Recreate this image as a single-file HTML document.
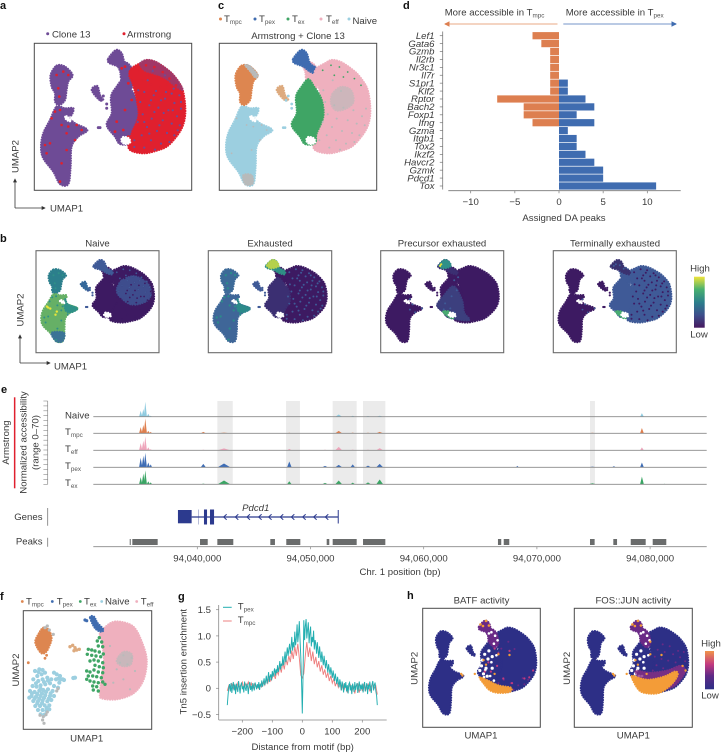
<!DOCTYPE html>
<html lang="en">
<head>
<meta charset="utf-8">
<title>Chromatin accessibility figure</title>
<style>
html,body{margin:0;padding:0;background:#fff;width:721px;height:753px;overflow:hidden}
svg{display:block}
text{font-family:"Liberation Sans",sans-serif;font-size:9.6px;fill:#3a3a3a}
.letter{font-weight:bold;font-size:11px;fill:#111}
.frame{fill:none;stroke:#4a4a4a;stroke-width:1}
.frame2{fill:none;stroke:#6a6a6a;stroke-width:1.1}
.sub{font-size:6.3px;fill:#555}
.mid{text-anchor:middle}
.end{text-anchor:end}
</style>
</head>
<body>
<svg id="fig" xmlns="http://www.w3.org/2000/svg" width="721" height="753" viewBox="0 0 721 753">
<defs>
<marker id="ah" viewBox="0 0 6 6" refX="5" refY="3" markerWidth="5" markerHeight="5" orient="auto"><path d="M0 0L6 3L0 6z" fill="#333"/></marker>
<marker id="ahO" viewBox="0 0 6 6" refX="5" refY="3" markerWidth="4" markerHeight="4" orient="auto"><path d="M0 0L6 3L0 6z" fill="#DD7F50"/></marker>
<marker id="ahB" viewBox="0 0 6 6" refX="5" refY="3" markerWidth="4" markerHeight="4" orient="auto"><path d="M0 0L6 3L0 6z" fill="#3F6CB0"/></marker>
<linearGradient id="viridis" x1="0" y1="1" x2="0" y2="0">
<stop offset="0" stop-color="#46195f"/><stop offset=".25" stop-color="#3d4f8c"/><stop offset=".5" stop-color="#2c7f8c"/><stop offset=".75" stop-color="#48b070"/><stop offset="1" stop-color="#efe43a"/>
</linearGradient>
<linearGradient id="plasma" x1="0" y1="1" x2="0" y2="0">
<stop offset="0" stop-color="#2d2f86"/><stop offset=".35" stop-color="#5f2a86"/><stop offset=".65" stop-color="#c23a80"/><stop offset="1" stop-color="#f0944a"/>
</linearGradient>
</defs>

<text class="letter" x="0" y="9">a</text>
<text class="letter" x="218" y="9">c</text>
<text class="letter" x="403" y="9">d</text>
<text class="letter" x="0" y="242">b</text>
<text class="letter" x="1" y="393">e</text>
<text class="letter" x="0" y="600">f</text>
<text class="letter" x="178" y="600">g</text>
<text class="letter" x="407" y="599">h</text>

<!-- panel a -->
<g id="panelA"></g>
<rect class="frame" x="34.3" y="43.3" width="157.4" height="147"/>
<circle cx="47.7" cy="33.7" r="1.5" fill="#6E4B96"/>
<text x="52" y="37.3">Clone 13</text>
<circle cx="124" cy="33.7" r="1.5" fill="#E0202E"/>
<text x="127" y="37.3">Armstrong</text>
<path d="M15 208V179" stroke="#333" stroke-width=".8" fill="none" marker-end="url(#ah)"/>
<path d="M15 208H45" stroke="#333" stroke-width=".8" fill="none" marker-end="url(#ah)"/>
<text class="mid" transform="translate(18.3 156.5) rotate(-90)">UMAP2</text>
<text x="50" y="211.5">UMAP1</text>

<!-- panel c -->
<g id="panelC"></g>
<rect class="frame" x="219.3" y="43.3" width="157.4" height="147"/>
<circle cx="220.5" cy="19" r="1.5" fill="#DD8650"/>
<text x="224" y="22">T<tspan class="sub" dy="2">mpc</tspan></text>
<circle cx="255" cy="19" r="1.5" fill="#3F6CB0"/>
<text x="259" y="22">T<tspan class="sub" dy="2">pex</tspan></text>
<circle cx="288" cy="19" r="1.5" fill="#3FA565"/>
<text x="292" y="22">T<tspan class="sub" dy="2">ex</tspan></text>
<circle cx="321" cy="19" r="1.5" fill="#EFB0BE"/>
<text x="326" y="22">T<tspan class="sub" dy="2">eff</tspan></text>
<circle cx="349" cy="19" r="1.5" fill="#9CCFE0"/>
<text x="352.5" y="24">Naive</text>
<text class="mid" x="298" y="39">Armstrong + Clone 13</text>

<!-- panel d -->
<text x="444.7" y="15.3">More accessible in T<tspan class="sub" dy="2">mpc</tspan></text>
<text x="565.7" y="15.3">More accessible in T<tspan class="sub" dy="2">pex</tspan></text>
<path d="M557.5 24H445" stroke="#F1C6AE" stroke-width="1.4" marker-end="url(#ahO)"/>
<path d="M563.3 24H676" stroke="#A3B9DB" stroke-width="1.4" marker-end="url(#ahB)"/>
<g id="panelD"></g>
<text class="mid" x="564" y="221">Assigned DA peaks</text>

<!-- panel b -->
<g id="panelB1"></g>
<g id="panelB2"></g>
<g id="panelB3"></g>
<g id="panelB4"></g>
<rect class="frame2" x="36" y="250.7" width="123" height="102"/>
<rect class="frame2" x="208.3" y="250.7" width="123.4" height="102"/>
<rect class="frame2" x="380.7" y="250.7" width="123" height="102"/>
<rect class="frame2" x="553.3" y="250.7" width="123" height="102"/>
<text class="mid" x="97.5" y="246.7">Naive</text>
<text class="mid" x="270" y="246.7">Exhausted</text>
<text class="mid" x="442" y="246.7">Precursor exhausted</text>
<text class="mid" x="615" y="246.7">Terminally exhausted</text>
<rect x="694" y="276.7" width="10.7" height="51" fill="url(#viridis)"/>
<text class="mid" x="700" y="271.5">High</text>
<text class="mid" x="699" y="337.5">Low</text>
<path d="M20 363V335" stroke="#333" stroke-width=".8" fill="none" marker-end="url(#ah)"/>
<path d="M20 363H50" stroke="#333" stroke-width=".8" fill="none" marker-end="url(#ah)"/>
<text class="mid" transform="translate(23.3 310) rotate(-90)">UMAP2</text>
<text x="54" y="369.5">UMAP1</text>

<!-- panel e -->
<rect x="13.9" y="397.3" width="1.5" height="91" fill="#E0202E"/>
<text class="mid" transform="translate(9 442.5) rotate(-90)">Armstrong</text>
<text class="mid" transform="translate(26.7 442.5) rotate(-90)">Normalized accessibility</text>
<text class="mid" transform="translate(38.5 442.5) rotate(-90)">(range 0–70)</text>
<g id="panelE"></g>
<text x="65" y="418.5">Naive</text>
<text x="65" y="435">T<tspan class="sub" dy="2">mpc</tspan></text>
<text x="65" y="452">T<tspan class="sub" dy="2">eff</tspan></text>
<text x="65" y="469">T<tspan class="sub" dy="2">pex</tspan></text>
<text x="65" y="486">T<tspan class="sub" dy="2">ex</tspan></text>
<text class="end" x="42.5" y="520">Genes</text>
<text class="end" x="42.5" y="544.3">Peaks</text>
<path d="M47.7 508V525.7M47.7 537.7V546.7" stroke="#777" stroke-width=".8"/>
<text class="mid" x="255.7" y="511" font-style="italic">Pdcd1</text>
<text class="mid" x="400" y="575">Chr. 1 position (bp)</text>

<!-- panel f -->
<g id="panelF"></g>
<rect class="frame" x="23.3" y="610.7" width="128.4" height="118.6"/>
<circle cx="22.3" cy="601.5" r="1.4" fill="#DD8650"/>
<text x="26" y="604.5">T<tspan class="sub" dy="2">mpc</tspan></text>
<circle cx="52.3" cy="601.5" r="1.4" fill="#3F6CB0"/>
<text x="56.7" y="604.5">T<tspan class="sub" dy="2">pex</tspan></text>
<circle cx="80.3" cy="601.5" r="1.4" fill="#3FA565"/>
<text x="84" y="604.5">T<tspan class="sub" dy="2">ex</tspan></text>
<circle cx="101.7" cy="601.5" r="1.4" fill="#9CCFE0"/>
<text x="105" y="604.5">Naive</text>
<circle cx="136.7" cy="601.5" r="1.4" fill="#EFB0BE"/>
<text x="140.7" y="604.5">T<tspan class="sub" dy="2">eff</tspan></text>
<text class="mid" x="86.7" y="741.7">UMAP1</text>
<text class="mid" transform="translate(19 670) rotate(-90)">UMAP2</text>

<!-- panel g -->
<g id="panelG"></g>
<text class="mid" transform="translate(186.5 661.7) rotate(-90)">Tn5 insertion enrichment</text>
<text class="mid" x="302.7" y="750">Distance from motif (bp)</text>
<path d="M223 607.3H231.7" stroke="#22AEB0" stroke-width="1"/>
<path d="M223 621H231.7" stroke="#EE8080" stroke-width="1"/>
<text x="237.7" y="609.5">T<tspan class="sub" dy="2">pex</tspan></text>
<text x="237.7" y="623">T<tspan class="sub" dy="2">mpc</tspan></text>

<!-- panel h -->
<g id="panelH1"></g>
<g id="panelH2"></g>
<rect class="frame" x="422.7" y="608.3" width="117.6" height="119"/>
<rect class="frame" x="574.3" y="608.3" width="118" height="119"/>
<text class="mid" x="481.5" y="603.3">BATF activity</text>
<text class="mid" x="633.3" y="603.3">FOS::JUN activity</text>
<text class="mid" x="481" y="738.3">UMAP1</text>
<text class="mid" x="633.3" y="738.3">UMAP1</text>
<text class="mid" transform="translate(417.7 668.3) rotate(-90)">UMAP2</text>
<text class="mid" transform="translate(570 668.3) rotate(-90)">UMAP2</text>
<rect x="705" y="651" width="9" height="38.3" fill="url(#plasma)"/>
<text class="mid" x="711" y="646.7">High</text>
<text class="mid" x="710" y="698.3">Low</text>
</svg>

<script>
/* ---------- bar chart data (panel d) ---------- */
const geneNames = ['Lef1','Gata6','Gzmb','Il2rb','Nr3c1','Il7r','S1pr1','Klf2','Rptor','Bach2','Foxp1','Ifng','Gzma','Itgb1','Tox2','Ikzf2','Havcr2','Gzmk','Pdcd1','Tox'];
const tmpcPeaks = [-3,-2,-1,-1,-1,-1,-1,-1,-7,-4,-4,-3,0,0,0,0,0,0,0,0];
const tpexPeaks = [0,0,0,0,0,0,1,1,3,4,2,4,1,2,2,3,4,5,5,11];
const daTicks = [-10,-5,0,5,10];

/* ---------- line chart data (panel g) ---------- */
const tpexDistance = [-250,-247.5,-245,-242.5,-240,-237.5,-235,-232.5,-230,-227.5,-225,-222.5,-220,-217.5,-215,-212.5,-210,-207.5,-205,-202.5,-200,-197.5,-195,-192.5,-190,-187.5,-185,-182.5,-180,-177.5,-175,-172.5,-170,-167.5,-165,-162.5,-160,-157.5,-155,-152.5,-150,-147.5,-145,-142.5,-140,-137.5,-135,-132.5,-130,-127.5,-125,-122.5,-120,-117.5,-115,-112.5,-110,-107.5,-105,-102.5,-100,-97.5,-95,-92.5,-90,-87.5,-85,-82.5,-80,-77.5,-75,-72.5,-70,-67.5,-65,-62.5,-60,-57.5,-55,-52.5,-50,-47.5,-45,-42.5,-40,-37.5,-35,-32.5,-30,-27.5,-25,-22.5,-20,-17.5,-15,-12.5,-10,-7.5,-5,-2.5,0,2.5,5,7.5,10,12.5,15,17.5,20,22.5,25,27.5,30,32.5,35,37.5,40,42.5,45,47.5,50,52.5,55,57.5,60,62.5,65,67.5,70,72.5,75,77.5,80,82.5,85,87.5,90,92.5,95,97.5,100,102.5,105,107.5,110,112.5,115,117.5,120,122.5,125,127.5,130,132.5,135,137.5,140,142.5,145,147.5,150,152.5,155,157.5,160,162.5,165,167.5,170,172.5,175,177.5,180,182.5,185,187.5,190,192.5,195,197.5,200,202.5,205,207.5,210,212.5,215,217.5,220,222.5,225,227.5,230,232.5,235,237.5,240,242.5,245,247.5,250];
const tpexEnrichment = [-.32,-.12,.02,.08,-.06,.10,-.09,.03,.12,-.04,.07,-.11,.09,.01,-.07,.14,.02,-.10,.06,.11,-.02,
.04,-.08,.13,.00,-.05,.09,.03,-.11,.07,.12,-.03,.05,-.06,.10,.02,-.04,.11,.05,-.02,.08,
.00,.12,-.03,.07,.04,.15,.03,.10,.19,.06,.14,.24,.09,.18,.31,.12,.22,.27,.15,.33,
.22,.30,.38,.24,.36,.29,.44,.31,.40,.52,.36,.47,.43,.61,.44,.55,.70,.50,.64,.78,
.62,.74,.85,.66,.80,.98,.72,.88,.78,1.08,.82,.95,1.22,.88,1.05,1.28,.90,.60,
.10,-.48,.30,
1.30,.92,1.18,1.32,.95,1.12,1.26,.86,1.05,1.18,.80,.98,.88,1.10,.74,.92,.84,.66,.88,
.72,.58,.80,.64,.50,.70,.56,.44,.62,.48,.38,.54,.42,.30,.46,.36,.26,.40,.30,.20,
.34,.24,.14,.28,.18,.08,.22,.12,.02,.17,.09,-.04,.13,.05,-.08,.10,.01,.12,-.06,.06,
-.10,.08,.11,-.04,.06,-.11,.09,.02,-.07,.12,-.03,.05,.10,-.09,.04,.13,-.05,.07,-.02,.09,
-.08,.05,.12,-.06,.03,.10,-.11,.07,-.02,.13,.01,-.09,.08,.14,-.04,.06,.11,-.05,-.14,-.32];
const tmpcDistance = [-250,-245,-240,-235,-230,-225,-220,-215,-210,-205,-200,-195,-190,-185,-180,-175,-170,-165,-160,-155,-150,-145,-140,-135,-130,-125,-120,-115,-110,-105,-100,-95,-90,-85,-80,-75,-70,-65,-60,-55,-50,-45,-40,-35,-30,-25,-20,-15,-10,-5,0,5,10,15,20,25,30,35,40,45,50,55,60,65,70,75,80,85,90,95,100,105,110,115,120,125,130,135,140,145,150,155,160,165,170,175,180,185,190,195,200,205,210,215,220,225,230,235,240,245,250];
const tmpcEnrichment = [-.05,.05,-.04,.08,.00,.07,-.02,.10,.02,.06,.12,.00,.09,.03,.12,.02,.10,.00,.08,.03,.06,.00,.08,.03,.12,.06,.18,.10,.24,.14,.20,.28,.18,.34,.26,.42,.30,.50,.36,.58,.44,.62,.50,.72,.56,.80,.62,.85,.58,.25,.20,.28,.62,.88,.60,.78,.52,.70,.46,.60,.40,.52,.32,.44,.26,.36,.20,.30,.14,.24,.10,.18,.04,.14,.02,.12,-.04,.08,-.02,.06,-.08,.04,.07,-.08,.05,-.10,.04,.08,-.08,.06,-.05,.09,-.06,.03,.08,-.06,.04,.10,.00,.05,-.12];
const enrichmentTicks = [-0.5,0,0.5,1,1.5];
const enrichmentLabels = ['−0.5','0','0.5','1.0','1.5'];
const distanceTicks = [-200,-100,0,100,200];

/* ---------- genome tracks data (panel e), positions in kb past 94,000,000 ---------- */
const peakKb = [35.0,35.23,35.41,35.67,35.88,40.53,42.36,48.13,51.28,52.49,53.73,55.08,56.11,65.33,68.27,74.9,76.8,79.28,81.26];
const peakHalfWidthKb = [.14,.14,.14,.14,.12,.22,.55,.2,.25,.3,.2,.25,.3,.1,.12,.35,.15,.16,.1];
const naiveSignal = [25,32,62,12,4,0,1,1,0,9,4,3,4,0,0,0,0,15,0];
const tmpcSignal = [26,35,62,10,6,6,3,2,1,10,3,2,6,0,0,2,0,22,0];
const teffSignal = [30,40,58,12,4,2,8,6,2,14,3,2,9,0,0,0,0,12,0];
const tpexSignal = [40,48,60,20,12,14,16,24,6,10,12,7,14,1,6,3,5,20,0];
const texSignal = [30,45,58,12,8,3,16,13,6,16,7,8,20,0,0,4,0,32,2];
const bandStartKb = [41.77,47.84,51.96,54.64,74.69];
const bandEndKb = [43.13,49.07,54.08,56.61,75.13];
const peakBoxStartKb = [34.03,34.26,40.24,41.77,46.45,47.86,51.43,51.96,54.64,66.56,67.07,74.69,76.75,78.29,80.23];
const peakBoxEndKb = [34.12,36.50,40.92,43.18,46.86,49.10,51.66,54.08,56.61,66.85,67.56,75.10,77.08,79.61,81.43];
const chevronKb = [42.45,43.48,44.51,45.54,46.42,47.45,48.43,49.43,50.4,51.43];
const exonStartKb = [38.29,40.12,40.59,41.12];
const exonEndKb = [39.5,40.15,40.86,41.48];
const genomeTicksKb = [40,50,60,70,80];
const genomeTickLabels = ['94,040,000','94,050,000','94,060,000','94,070,000','94,080,000'];

/* ---------- UMAP regions (umap1, umap2 units shared by panels a, b, c, h) ---------- */
const lobe = [[67,374],[92,371],[115,346],[102,326],[97,301],[92,271],[75,256],[62,266],[62,291],[52,311],[49,346]];
const naiveBody = [[67,251],[92,246],[117,246],[112,226],[102,221],[122,201],[159,181],[132,161],[112,131],[109,71],[102,19],[77,19],[57,56],[27,96],[20,131],[27,171],[47,211]];
const bump = [[222,395],[245,421],[262,411],[272,381],[292,366],[292,350],[272,356],[252,371],[225,382]];
const connector = [[252,375],[272,385],[292,366],[300,325],[285,305],[262,330],[258,355]];
const smallCluster = [[172,301],[189,313],[197,286],[207,271],[193,273]];
const texBand = [[267,333],[285,310],[307,271],[312,221],[292,171],[287,141],[257,139],[242,161],[217,196],[232,231],[230,281],[247,311]];
const teffDisc = [[292,366],[317,381],[337,391],[362,386],[387,371],[412,351],[432,326],[445,301],[452,261],[452,221],[442,186],[422,156],[397,131],[367,119],[332,111],[297,116],[282,131],[292,171],[312,221],[307,271],[295,320],[285,345]];
const discTopArc = [[317,381],[337,391],[362,386],[387,371],[412,351],[432,326],[445,301],[420,315],[395,335],[360,350],[330,360]];
const centerPatch = [[330,320],[380,340],[430,300],[440,250],[420,215],[370,200],[330,230],[310,270]];
const greyCenter = [[340,290],[365,310],[395,300],[402,265],[380,245],[350,240],[335,262]];
const greyTail = [[72,45],[97,45],[100,20],[78,18]];
const greyLobeTop = [[78,375],[92,372],[115,346],[108,338],[95,355]];
const holeRight = [[267,160],[283,156],[287,143],[271,139],[261,149]];
const holeLeft = [[97,222],[110,211],[104,207],[92,217]];
const bumpTop = [[225,395],[245,421],[262,411],[268,390],[240,380]];
const lowerTexPatch = [[217,196],[242,161],[257,139],[300,125],[340,125],[320,160],[312,221],[280,290],[240,240]];
const exGreenPatch = [[240,165],[250,150],[272,132],[280,140],[262,165]];
const tailPatch = [[77,19],[102,19],[107,60],[60,60]];
const armPatch = [[112,226],[122,201],[159,181],[132,161],[112,175]];
const batfOrange = [[225,175],[260,160],[300,140],[350,130],[345,112],[300,108],[265,120],[240,150]];
const fosOrange = [[225,180],[260,170],[300,165],[360,180],[400,200],[410,185],[385,145],[340,110],[295,105],[255,120]];
const fosMagenta = [[240,200],[300,195],[370,205],[420,225],[440,205],[420,165],[380,130],[300,130]];

const discSpeckles = [[310,360],[335,375],[360,370],[385,355],[405,335],[425,315],[345,345],[372,340],[398,318],[322,330],[350,318],[378,310],[412,290],[435,285],[330,295],[358,285],[392,275],[420,262],[440,245],[318,265],[345,255],[372,248],[402,240],[428,222],[325,228],[352,215],[385,210],[412,200],[436,195],[310,205],[338,190],[368,178],[398,172],[420,165],[322,165],[350,150],[380,140],[405,145],[300,150],[330,128],[362,122],[312,300],[340,330],[365,298],[395,295],[305,240],[330,205],[360,235],[388,232],[415,240],[345,170],[375,195],[300,130],[392,345],[355,358],[418,305],[440,265],[430,180],[380,270],[350,270]];
const leftSpeckles = [[67,346],[102,346],[87,356],[72,306],[75,281],[62,236],[52,216],[82,196],[102,191],[127,196],[142,181],[122,151],[97,121],[37,111],[47,141],[82,81],[77,26],[97,171],[77,241],[32,136]];
const bridgeSpeckles = [[272,371],[287,356],[262,366],[297,336],[282,321],[242,176],[267,181],[282,161],[247,206],[272,241],[292,271]];
const strayPoints = [[217,259],[217,246],[192,188],[197,188],[207,283],[200,270]];
const yellowNaive = [[47,185],[55,180],[42,190],[80,165],[75,150]];
const hTexGaps = [[235,250],[245,275],[232,225],[250,215],[262,290],[240,190],[225,205],[258,255],[275,215],[275,265],[255,180]];

/* ---------- panel f points (own umap units) ---------- */
const fNaive = [[35,175],[48,180],[42,160],[55,165],[65,170],[30,150],[45,145],[58,150],[72,155],[84,150],[28,130],[40,128],[52,132],[66,135],[80,138],[92,130],[20,115],[34,112],[48,116],[60,118],[74,120],[88,115],[100,165],[110,160],[118,150],[98,150],[108,140],[122,148],[92,170],[25,100],[38,98],[52,100],[66,102],[80,100],[18,95],[30,85],[44,84],[58,86],[72,84],[36,70],[50,70],[64,72],[78,72],[44,58],[58,58],[70,55],[52,45],[64,44],[78,60],[84,88],[92,100],[104,125],[155,155],[150,154],[38,138],[52,122],[62,142],[74,146],[46,172],[58,178],[26,108],[42,106],[56,108],[68,112],[82,108],[34,92],[48,92],[62,94],[76,92],[42,78],[56,78],[70,64],[112,150],[105,152]];
const fGrey = [[50,42],[60,38],[68,44],[58,28],[62,18],[72,52],[100,115],[104,122],[65,305],[78,298],[90,285],[72,310]];
const fTan = [[140,248],[148,252],[155,245],[160,238],[168,240],[152,236]];
const fTex = [[228,275],[222,265],[235,262],[225,250],[238,248],[195,240],[205,238],[215,235],[228,232],[192,225],[205,222],[218,220],[232,218],[240,226],[200,205],[212,208],[225,205],[238,200],[215,192],[228,188],[240,185],[190,175],[200,172],[212,178],[225,172],[238,170],[195,160],[208,160],[220,158],[234,155],[200,145],[212,142],[225,140],[238,142],[208,130],[220,128],[245,135],[210,118],[225,115],[190,150]];
const fOrangeBits = [[15,200],[65,213],[70,222]];
const fBlueBits = [[185,328],[190,326]];
const fGreyDisc = [[290,200],[300,222],[312,195],[325,215],[280,180],[335,175],[300,150],[270,140],[320,120],[260,250]];
const fTmpcBlob = [[60,305],[75,300],[85,275],[78,250],[68,232],[55,228],[42,245],[36,265],[48,290]];
const fTpexBlob = [[200,336],[212,338],[222,320],[240,300],[232,293],[214,305]];
const fTeffBlob = [[290,323],[330,308],[355,263],[370,208],[360,148],[330,108],[280,90],[235,93],[230,108],[235,158],[242,208],[235,268],[230,288],[260,318]];
const fGreyBlob = [[280,205],[300,232],[325,225],[322,195],[298,190]];

/* ---------- helpers ---------- */
const NS = 'http://www.w3.org/2000/svg';
const root = id => document.getElementById(id);
const linear = (d0,d1,r0,r1) => v => r0 + (v-d0)/(d1-d0)*(r1-r0);
const makeScale = (xd,xr,yd,yr) => ({x:linear(xd[0],xd[1],xr[0],xr[1]),y:linear(yd[0],yd[1],yr[0],yr[1])});

/* closed smooth outline (Catmull-Rom to Bezier) through mapped points */
function smooth(sc,pts){
  const m=pts.map(q=>[sc.x(q[0]),sc.y(q[1])]), n=m.length;
  let d='M'+m[0][0].toFixed(1)+' '+m[0][1].toFixed(1);
  for(let i=0;i<n;i++){
    const p0=m[(i-1+n)%n],p1=m[i],p2=m[(i+1)%n],p3=m[(i+2)%n];
    const c1=[p1[0]+(p2[0]-p0[0])/6,p1[1]+(p2[1]-p0[1])/6];
    const c2=[p2[0]-(p3[0]-p1[0])/6,p2[1]-(p3[1]-p1[1])/6];
    d+='C'+c1[0].toFixed(1)+' '+c1[1].toFixed(1)+' '+c2[0].toFixed(1)+' '+c2[1].toFixed(1)+' '+p2[0].toFixed(1)+' '+p2[1].toFixed(1);
  }
  return d+'Z';
}
function region(g,sc,pts,color,name,opacity){
  const p=document.createElementNS(NS,'path');
  
  
  p.setAttribute('d',smooth(sc,pts));
  p.setAttribute('fill',color);
  p.setAttribute('stroke',color);
  p.setAttribute('stroke-width','2.2');
  p.setAttribute('stroke-linecap','round');
  p.setAttribute('stroke-dasharray','0.1 2.4');
  if(opacity) p.setAttribute('opacity',opacity);
  g.appendChild(p);
}
function dots(g,sc,pts,color,r,name){
  pts.forEach(q=>{
    const c=document.createElementNS(NS,'circle');
    
    
    c.setAttribute('cx',sc.x(q[0]).toFixed(1));
    c.setAttribute('cy',sc.y(q[1]).toFixed(1));
    c.setAttribute('r',r);
    c.setAttribute('fill',color);
    g.appendChild(c);
  });
}
function line(g,x1,y1,x2,y2,color,w,name){
  const l=document.createElementNS(NS,'line');
  
  
  l.setAttribute('x1',x1);l.setAttribute('y1',y1);l.setAttribute('x2',x2);l.setAttribute('y2',y2);
  l.setAttribute('stroke',color);l.setAttribute('stroke-width',w);
  g.appendChild(l);
}
function label(g,x,y,str,anchor,name,italic){
  const t=document.createElementNS(NS,'text');
  
  
  t.setAttribute('x',x);t.setAttribute('y',y);
  t.setAttribute('text-anchor',anchor);
  if(italic) t.setAttribute('font-style','italic');
  t.textContent=str;
  g.appendChild(t);
}
function box(g,x,y,w,h,color,name){
  const r=document.createElementNS(NS,'rect');
  
  
  r.setAttribute('x',x);r.setAttribute('y',y);r.setAttribute('width',w);r.setAttribute('height',h);
  r.setAttribute('fill',color);
  g.appendChild(r);
}
const holes = (g,sc)=>{region(g,sc,holeRight,'#fff','gap');region(g,sc,holeLeft,'#fff','gap');};

/* ---------- panel a ---------- */
(function(){
  const g=root('panelA'), sc=makeScale([0,472],[34.3,191.7],[0,441],[190.3,43.3]);
  const purple='#6E4B96', red='#E0202E';
  [lobe,naiveBody,bump,connector,smallCluster,texBand].forEach(r=>region(g,sc,r,purple,'clone13-cells'));
  dots(g,sc,strayPoints,purple,1.5,'clone13-cell');
  region(g,sc,teffDisc,red,'armstrong-cells');
  region(g,sc,discTopArc,purple,'clone13-cells-top','.55');
  dots(g,sc,discSpeckles,purple,1.1,'clone13-cell');
  dots(g,sc,discSpeckles.slice(0,12),red,1.3,'armstrong-cell');
  dots(g,sc,leftSpeckles,red,1.3,'armstrong-cell');
  dots(g,sc,bridgeSpeckles,red,1.4,'armstrong-cell');
  holes(g,sc);
})();

/* ---------- panel c ---------- */
(function(){
  const g=root('panelC'), sc=makeScale([0,472],[219.3,376.7],[0,441],[190.3,43.3]);
  region(g,sc,naiveBody,'#9CCFE0','naive-cells');
  region(g,sc,lobe,'#DD8650','tmpc-cells');
  region(g,sc,greyLobeTop,'#B8BABA','unassigned-cells');
  region(g,sc,greyTail,'#B8BABA','unassigned-cells');
  region(g,sc,connector,'#EFB0BE','teff-cells');
  region(g,sc,bump,'#3F6CB0','tpex-cells');
  region(g,sc,smallCluster,'#DDAA7E','small-cluster-cells');
  region(g,sc,teffDisc,'#EFB0BE','teff-cells');
  region(g,sc,texBand,'#3FA565','tex-cells');
  region(g,sc,greyCenter,'#B8BABA','unassigned-cells','.6');
  dots(g,sc,discSpeckles.slice(18,44),'#B8BABA',1,'unassigned-cell');
  dots(g,sc,discSpeckles.slice(0,8),'#3FA565',.9,'tex-cell');
  dots(g,sc,strayPoints,'#9CCFE0',1.4,'naive-cell');
  dots(g,sc,leftSpeckles.slice(6,14),'#B8BABA',.9,'unassigned-cell');
  holes(g,sc);
})();

/* ---------- panel b ---------- */
const bScale = (x0,x1)=>makeScale([0,472],[x0,x1],[0,441],[344.9,256]);
const dark='#3D1A62', mid='#3F5A97', teal='#2C7F8C';
(function(){
  const g=root('panelB1'), sc=bScale(36,159);
  region(g,sc,connector,dark,'low-cells');
  region(g,sc,teffDisc,dark,'low-cells');
  region(g,sc,texBand,dark,'low-cells');
  region(g,sc,centerPatch,'#3F5392','mid-cells','.9');
  dots(g,sc,discSpeckles,dark,.9,'low-cell');
  dots(g,sc,discSpeckles.slice(0,20),mid,.9,'mid-cell');
  region(g,sc,bump,mid,'mid-cells');
  region(g,sc,smallCluster,'#35689A','mid-cells');
  region(g,sc,lobe,teal,'teal-cells');
  region(g,sc,naiveBody,'#66B066','high-cells');
  region(g,sc,tailPatch,'#3B7396','mid-cells');
  region(g,sc,armPatch,'#2F9088','teal-cells');
  dots(g,sc,leftSpeckles,'#2F9088',1,'teal-cell');
  dots(g,sc,yellowNaive,'#E8E53A',1.2,'highest-cell');
  dots(g,sc,strayPoints,mid,1.1,'mid-cell');
  holes(g,sc);
})();
(function(){
  const g=root('panelB2'), sc=bScale(208.3,331.7);
  region(g,sc,connector,dark,'low-cells');
  region(g,sc,teffDisc,dark,'low-cells');
  region(g,sc,texBand,'#3B2F72','low-cells');
  dots(g,sc,discSpeckles,mid,1,'mid-cell');
  region(g,sc,lobe,'#3D6A98','mid-cells');
  region(g,sc,smallCluster,'#3F5A97','mid-cells');
  region(g,sc,naiveBody,'#3F6698','mid-cells');
  region(g,sc,armPatch,'#2C8A8A','teal-cells');
  dots(g,sc,leftSpeckles,'#2C8A8A',1.2,'teal-cell');
  region(g,sc,bump,'#2F8F85','teal-cells');
  region(g,sc,bumpTop,'#B5D14C','high-cells');
  dots(g,sc,strayPoints,mid,1.1,'mid-cell');
  holes(g,sc);
})();
(function(){
  const g=root('panelB3'), sc=bScale(380.7,503.7);
  [lobe,naiveBody,smallCluster,connector,teffDisc,texBand].forEach(r=>region(g,sc,r,dark,'low-cells'));
  region(g,sc,lowerTexPatch,'#3C3F7E','mid-cells');
  dots(g,sc,bridgeSpeckles,mid,1,'mid-cell');
  region(g,sc,bump,'#3B2F72','low-cells');
  region(g,sc,bumpTop,'#2F9088','teal-cells');
  dots(g,sc,[[228,392],[232,400]],'#E2DE3C',1.1,'highest-cell');
  region(g,sc,exGreenPatch,'#49AC72','high-cells');
  dots(g,sc,armPatch,mid,1,'mid-cell');
  dots(g,sc,strayPoints,dark,1.1,'low-cell');
  holes(g,sc);
})();
(function(){
  const g=root('panelB4'), sc=bScale(553.3,676.3);
  [lobe,naiveBody,smallCluster].forEach(r=>region(g,sc,r,dark,'low-cells'));
  region(g,sc,connector,mid,'mid-cells');
  region(g,sc,teffDisc,mid,'mid-cells');
  region(g,sc,texBand,mid,'mid-cells');
  region(g,sc,bump,'#3A3270','low-cells');
  dots(g,sc,discSpeckles,dark,1,'low-cell');
  dots(g,sc,[[240,400],[255,395],[270,378],[232,392]],mid,1,'mid-cell');
  region(g,sc,exGreenPatch,'#49AC72','high-cells');
  dots(g,sc,armPatch,mid,.9,'mid-cell');
  dots(g,sc,strayPoints,dark,1.1,'low-cell');
  holes(g,sc);
})();

/* ---------- panel h ---------- */
const hNavy='#2D2F86', hPurple='#6A2A86', hMagenta='#C23A80', hOrange='#F39C38';
(function(){
  const g=root('panelH1'), sc=makeScale([0,472],[424,541],[0,441],[717.7,616.1]);
  [lobe,naiveBody,smallCluster,teffDisc,texBand].forEach(r=>region(g,sc,r,hNavy,'low-activity-cells'));
  region(g,sc,connector,hPurple,'mid-activity-cells');
  region(g,sc,bump,hPurple,'mid-activity-cells');
  dots(g,sc,[[228,405],[250,420],[262,400],[238,398]],hOrange,1.3,'high-activity-cell');
  dots(g,sc,bridgeSpeckles,'#fff',1.3,'gap');
  dots(g,sc,hTexGaps,'#fff',1.6,'gap');
  dots(g,sc,discSpeckles.slice(32,44),hPurple,1,'mid-activity-cell');
  dots(g,sc,[[260,240],[285,300],[300,280],[245,200],[270,200],[295,225],[320,170],[355,150],[345,290],[440,205],[425,175],[405,170]],hMagenta,1.1,'mid-activity-cell');
  region(g,sc,batfOrange,hOrange,'high-activity-cells');
  dots(g,sc,[[240,250],[250,230],[285,190],[150,190],[155,183],[205,190],[345,272],[300,275]],hOrange,1.2,'high-activity-cell');
})();
(function(){
  const g=root('panelH2'), sc=makeScale([0,472],[575.8,693],[0,441],[717.7,616.1]);
  [lobe,naiveBody,smallCluster,teffDisc,texBand].forEach(r=>region(g,sc,r,hNavy,'low-activity-cells'));
  region(g,sc,connector,hPurple,'mid-activity-cells');
  region(g,sc,bump,hPurple,'mid-activity-cells');
  dots(g,sc,[[228,405],[250,420],[262,400],[238,398]],hOrange,1.3,'high-activity-cell');
  dots(g,sc,bridgeSpeckles,'#fff',1.3,'gap');
  dots(g,sc,hTexGaps,'#fff',1.6,'gap');
  dots(g,sc,discSpeckles.slice(10,30),hPurple,1,'mid-activity-cell');
  region(g,sc,fosMagenta,'#8A2F84','mid-activity-cells','.8');
  region(g,sc,fosOrange,hOrange,'high-activity-cells');
  dots(g,sc,[[240,250],[250,230],[285,190],[150,190],[155,183],[205,190],[300,330],[345,272],[300,275],[430,225],[442,205]],hOrange,1.2,'high-activity-cell');
})();

/* ---------- panel f ---------- */
(function(){
  const g=root('panelF'), sc=makeScale([0,385],[23.3,151.7],[0,356],[729.3,610.7]);
  region(g,sc,fTeffBlob,'#EFB0BE','teff-cells');
  region(g,sc,fGreyBlob,'#B8BABA','unassigned-cells','.7');
  dots(g,sc,fGreyDisc,'#B8BABA',1.1,'unassigned-cell');
  region(g,sc,fTmpcBlob,'#DD8650','tmpc-cells');
  region(g,sc,fTpexBlob,'#3F6CB0','tpex-cells');
  dots(g,sc,fNaive,'#9CCFE0',2.1,'naive-cell');
  dots(g,sc,fGrey,'#B8BABA',1.6,'unassigned-cell');
  dots(g,sc,fTan,'#DDAA7E',1.7,'small-cluster-cell');
  dots(g,sc,fTex,'#3FA565',1.7,'tex-cell');
  dots(g,sc,fOrangeBits,'#DD8650',1.4,'tmpc-cell');
  dots(g,sc,fBlueBits,'#3F6CB0',1.6,'tpex-cell');
})();

/* ---------- panel d ---------- */
(function(){
  const g=root('panelD');
  const x=linear(-10,10,470.7,647.3);
  const y=i=>35.7+i*7.91;
  geneNames.forEach((name,i)=>{
    line(g,439.8,y(i),442.7,y(i),'#777','.7','gene-tick');
    label(g,434.5,y(i)+3.2,name,'end','gene-label-'+name.toLowerCase(),true);
    if(tmpcPeaks[i]<0) box(g,x(tmpcPeaks[i]),y(i)-3.6,x(0)-x(tmpcPeaks[i]),7.2,'#DD7F50','bar-tmpc-'+name.toLowerCase());
    if(tpexPeaks[i]>0) box(g,x(0),y(i)-3.6,x(tpexPeaks[i])-x(0),7.2,'#3F6CB0','bar-tpex-'+name.toLowerCase());
  });
  line(g,442.7,31.5,442.7,189.5,'#777','.8','d-y-axis');
  line(g,448.3,190.7,680.7,190.7,'#777','.8','d-x-axis');
  daTicks.forEach(t=>{
    line(g,x(t),190.7,x(t),193.3,'#777','.7','d-x-tick');
    label(g,x(t),205,String(t).replace('-','−'),'middle','d-x-tick-label');
  });
})();

/* ---------- panel e ---------- */
(function(){
  const g=root('panelE');
  const x=linear(40,50,197.3,310.5);
  const baselines=[416.7,433.3,450.3,467.3,484.3];
  const signals=[naiveSignal,tmpcSignal,teffSignal,tpexSignal,texSignal];
  const colors=['#8FCBE0','#DF7F4E','#EFA6BC','#3E6DB5','#3AA564'];
  const names=['naive','tmpc','teff','tpex','tex'];
  bandStartKb.forEach((s,i)=>box(g,x(s),401,x(bandEndKb[i])-x(s),83.3,'#EBEBEB','highlight-band'));
  line(g,47.7,401,47.7,484.3,'#888','.7','track-scale-axis');
  for(let k=0;k<18;k++) line(g,43.4,401+k*4.9,47.7,401+k*4.9,'#888','.6','track-scale-tick');
  signals.forEach((sig,t)=>{
    sig.forEach((v,i)=>{
      if(v<=0) return;
      const p=document.createElementNS(NS,'polygon');
      
      
      const b=baselines[t], h=v*.24;
      p.setAttribute('points',[x(peakKb[i]-peakHalfWidthKb[i]),b,x(peakKb[i]),b-h,x(peakKb[i]+peakHalfWidthKb[i]),b].map(n=>n.toFixed(1)).join(' '));
      p.setAttribute('fill',colors[t]);
      g.appendChild(p);
    });
    line(g,93.3,baselines[t],706.7,baselines[t],'#8a8a8a','.8','track-baseline-'+names[t]);
  });
  /* gene model */
  const navy='#2C3A8E';
  line(g,x(39.5),517,x(52.45),517,navy,'1.2','pdcd1-intron');
  box(g,x(exonStartKb[0]),510,x(exonEndKb[0])-x(exonStartKb[0]),13.3,navy,'pdcd1-exon');
  for(let i=1;i<exonStartKb.length;i++) box(g,x(exonStartKb[i]),509.5,x(exonEndKb[i])-x(exonStartKb[i]),15,navy,'pdcd1-exon');
  line(g,x(52.45),510,x(52.45),523.5,navy,'1','pdcd1-end');
  chevronKb.forEach(k=>{
    const c=document.createElementNS(NS,'path');
    
    
    const cx=x(k);
    c.setAttribute('d','M'+(cx+1.6)+' 514.2L'+(cx-1.4)+' 517L'+(cx+1.6)+' 519.8');
    c.setAttribute('fill','none');
    c.setAttribute('stroke',navy);
    c.setAttribute('stroke-width','1');
    g.appendChild(c);
  });
  peakBoxStartKb.forEach((s,i)=>box(g,x(s),539,x(peakBoxEndKb[i])-x(s),6,'#6A6C6C','called-peak'));
  line(g,93.3,546.7,706.7,546.7,'#888','.8','genome-axis');
  genomeTicksKb.forEach((k,i)=>{
    line(g,x(k),546.7,x(k),549.3,'#888','.7','genome-tick');
    label(g,x(k),561.7,genomeTickLabels[i],'middle','genome-tick-label');
  });
})();

/* ---------- panel g ---------- */
(function(){
  const g=root('panelG');
  const x=linear(-200,200,242.3,362.3);
  const y=linear(0,1,688.3,635.9);
  const draw=(pos,vals,color,name)=>{
    const p=document.createElementNS(NS,'polyline');
    
    
    p.setAttribute('points',vals.map((v,i)=>x(pos[i]).toFixed(1)+','+y(v).toFixed(1)).join(' '));
    p.setAttribute('fill','none');
    p.setAttribute('stroke',color);
    p.setAttribute('stroke-width','.95');
    g.appendChild(p);
  };
  draw(tmpcDistance,tmpcEnrichment,'#EE8080','line-tmpc');
  draw(tpexDistance,tpexEnrichment,'#22AEB0','line-tpex');
  line(g,218.7,605,218.7,720,'#888','.8','g-y-axis');
  line(g,218.7,720,386.7,720,'#888','.8','g-x-axis');
  enrichmentTicks.forEach((t,i)=>{
    line(g,216,y(t),218.7,y(t),'#888','.7','g-y-tick');
    label(g,211,y(t)+3.4,enrichmentLabels[i],'end','g-y-tick-label');
  });
  distanceTicks.forEach(t=>{
    line(g,x(t),720,x(t),722.5,'#888','.7','g-x-tick');
    label(g,x(t),734.3,String(t).replace('-','−'),'middle','g-x-tick-label');
  });
})();
</script>
</body>
</html>
